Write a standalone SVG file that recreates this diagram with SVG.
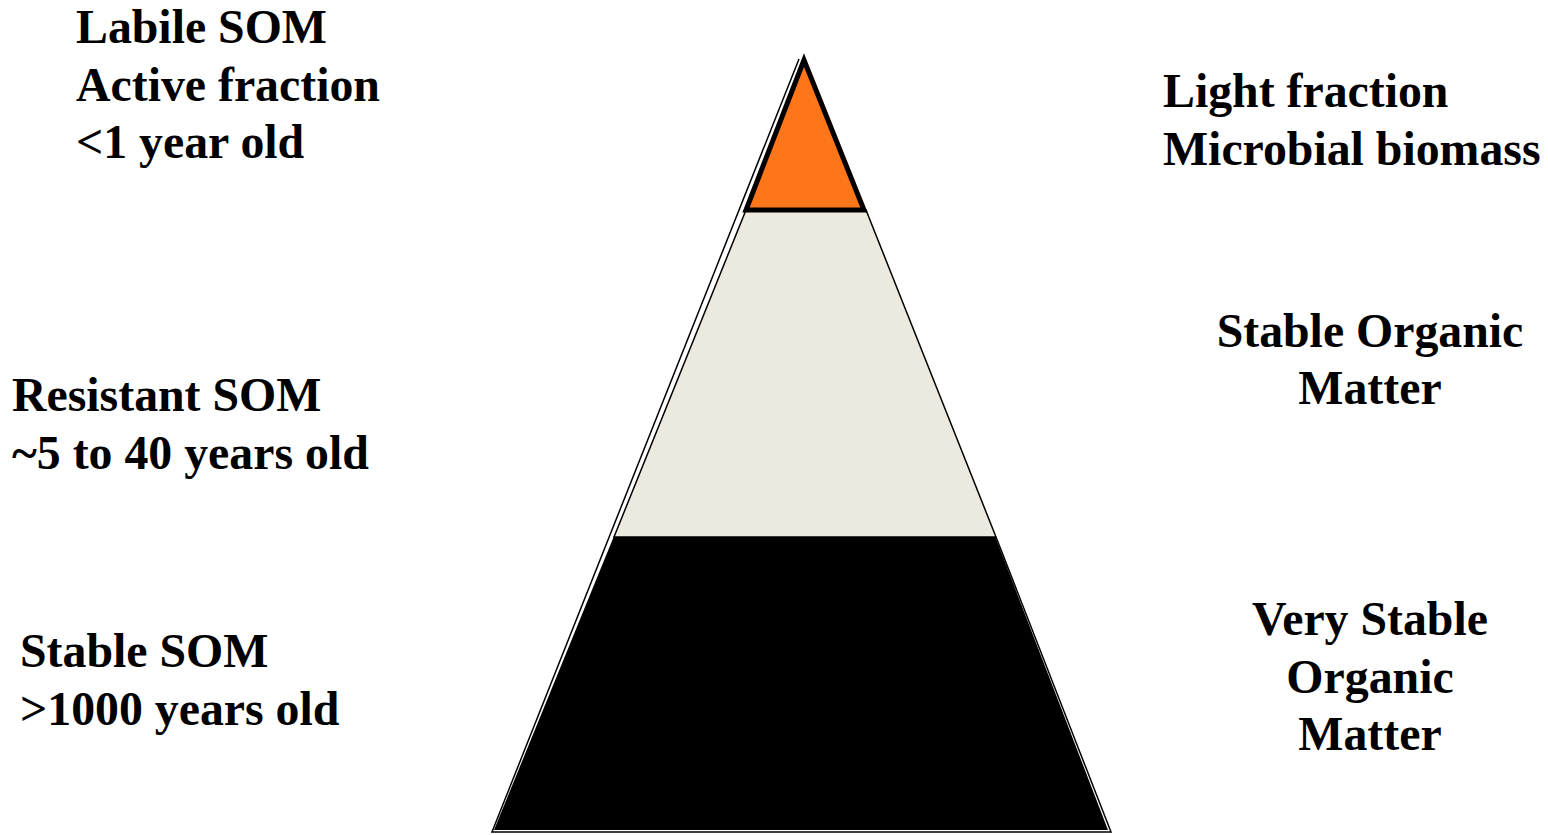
<svg xmlns="http://www.w3.org/2000/svg" width="1548" height="835" viewBox="0 0 1548 835">
<style>
text{font-family:"Liberation Serif","Times New Roman",serif;font-weight:bold;font-size:47.8px;fill:#000}
.c{text-anchor:middle}
</style>
<rect width="1548" height="835" fill="#fff"/>
<g id="pyramid">
<g id="layer-stable">
<polygon points="614,536 995,536 1108,830 494,830" fill="#000"/>
</g>
<g id="layer-resistant">
<polygon points="746,210 866,210 996,537 614,537" fill="#ECE9DF" stroke="#000" stroke-width="1.5"/>
</g>
<polyline points="799,59 492,832 1111,832 996,537" fill="none" stroke="#000" stroke-width="1.5"/>
<g id="layer-labile">
<polygon points="804,60 746,210 864,210" fill="#FD7619" stroke="#000" stroke-width="5" stroke-linejoin="miter"/>
</g>
</g>
<g id="labels-left">
<text x="76" y="43">Labile SOM</text>
<text x="76" y="101">Active fraction</text>
<text x="76" y="158">&lt;1 year old</text>
<text x="12" y="411">Resistant SOM</text>
<text x="12" y="469">~5 to 40 years old</text>
<text x="20" y="667">Stable SOM</text>
<text x="20" y="725">&gt;1000 years old</text>
</g>
<g id="labels-right">
<text x="1163" y="107">Light fraction</text>
<text x="1163" y="165">Microbial biomass</text>
<text class="c" x="1370" y="347">Stable Organic</text>
<text class="c" x="1370" y="404">Matter</text>
<text class="c" x="1370" y="635">Very Stable</text>
<text class="c" x="1370" y="693">Organic</text>
<text class="c" x="1370" y="750">Matter</text>
</g>
<g id="connectors"/>
</svg>
